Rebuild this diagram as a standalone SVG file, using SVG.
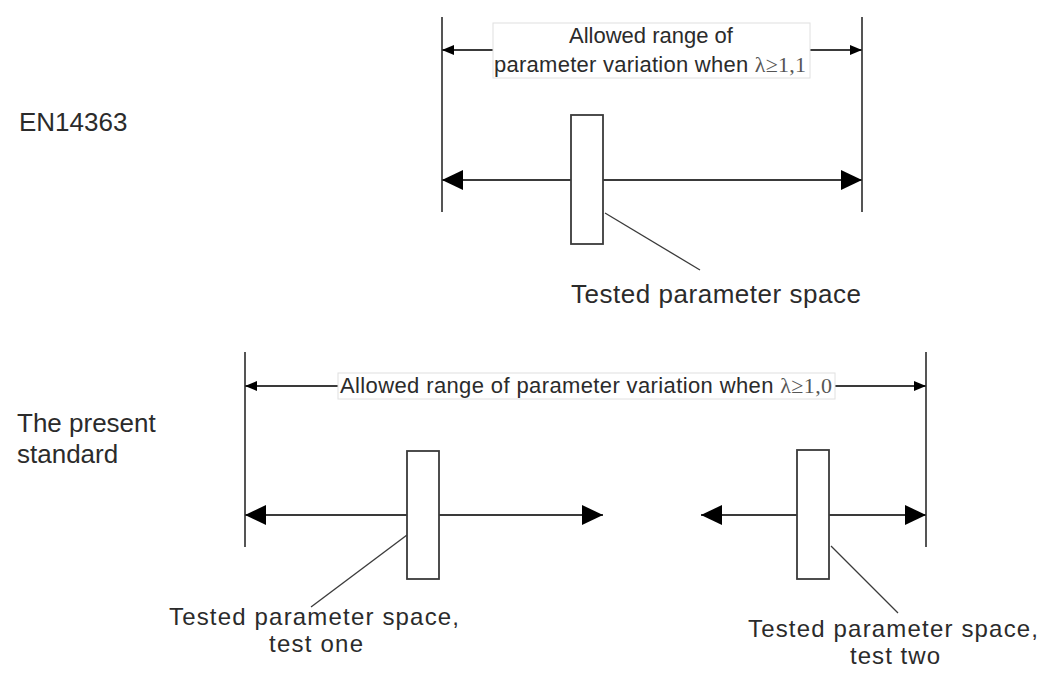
<svg xmlns="http://www.w3.org/2000/svg" width="1049" height="675" viewBox="0 0 1049 675">
<style>
.ln{stroke:#3a3a3a;stroke-width:1.8;fill:none}
.vl{stroke:#555;stroke-width:2;fill:none}
.ld{stroke:#3a3a3a;stroke-width:1.3;fill:none}
.box{fill:#fff;stroke:#3a3a3a;stroke-width:1.8}
.lbox{fill:#fff;stroke:#e0e0e0;stroke-width:1}
.t{font-family:"Liberation Sans",Arial,sans-serif;fill:#2b2b2b}
.big{font-size:26px}
.cap{font-size:24px}
.sm{font-size:22px}
.sym{font-family:"Liberation Serif","Times New Roman",serif;fill:#555}
</style>
<defs>
<marker id="ab" markerUnits="userSpaceOnUse" markerWidth="22" markerHeight="22" refX="21" refY="10" orient="auto-start-reverse" viewBox="0 0 22 20">
<path d="M0,0 L21,10 L0,20 z" fill="#000"/>
</marker>
<marker id="as" markerUnits="userSpaceOnUse" markerWidth="13" markerHeight="11" refX="12" refY="5" orient="auto-start-reverse" viewBox="0 0 13 10">
<path d="M0,0 L12,5 L0,10 z" fill="#000"/>
</marker>
</defs>
<g id="side-labels">
<text id="lbl-en" class="t big" x="19" y="131">EN14363</text>
<text id="lbl-present" class="t big" x="17" y="432">The present<tspan x="17" y="463">standard</tspan></text>
</g>
<g id="connectors">
<line class="vl" x1="442" y1="17" x2="442" y2="212"/>
<line class="vl" x1="862" y1="17" x2="862" y2="212"/>
<line class="ln" x1="442" y1="50" x2="862" y2="50" marker-start="url(#as)" marker-end="url(#as)"/>
<line class="ln" x1="442" y1="180" x2="862" y2="180" marker-start="url(#ab)" marker-end="url(#ab)"/>
<line class="ld" x1="605" y1="213" x2="700" y2="270"/>
<line class="vl" x1="245" y1="352" x2="245" y2="547"/>
<line class="vl" x1="926" y1="352" x2="926" y2="547"/>
<line class="ln" x1="245" y1="386" x2="926" y2="386" marker-start="url(#as)" marker-end="url(#as)"/>
<line class="ln" x1="245" y1="515" x2="603" y2="515" marker-start="url(#ab)" marker-end="url(#ab)"/>
<line class="ln" x1="701" y1="515" x2="926" y2="515" marker-start="url(#ab)" marker-end="url(#ab)"/>
<line class="ld" x1="407" y1="535" x2="311" y2="607"/>
<line class="ld" x1="831" y1="546" x2="898" y2="613"/>
</g>
<g id="range-top">
<rect class="lbox" x="493" y="23" width="317" height="55"/>
<text class="t sm" x="651" y="43" text-anchor="middle">Allowed range of</text>
<text class="t sm" x="494" y="72" textLength="312">parameter variation when <tspan class="sym">λ≥1,1</tspan></text>
</g>
<g id="range-bottom">
<rect class="lbox" x="338" y="373" width="497" height="26"/>
<text class="t sm" x="340" y="393" textLength="492">Allowed range of parameter variation when <tspan class="sym">λ≥1,0</tspan></text>
</g>
<g id="space-top">
<rect class="box" x="571" y="115" width="32" height="129"/>
<text class="t big" x="716" y="303" text-anchor="middle" textLength="290">Tested parameter space</text>
</g>
<g id="space-one">
<rect class="box" x="407" y="451" width="32" height="128"/>
<text class="t cap" x="169" y="625" textLength="290">Tested parameter space,</text>
<text class="t cap" x="269" y="652" textLength="94">test one</text>
</g>
<g id="space-two">
<rect class="box" x="797" y="450" width="32" height="129"/>
<text class="t cap" x="748" y="637" textLength="290">Tested parameter space,</text>
<text class="t cap" x="850" y="664" textLength="90">test two</text>
</g>
</svg>
